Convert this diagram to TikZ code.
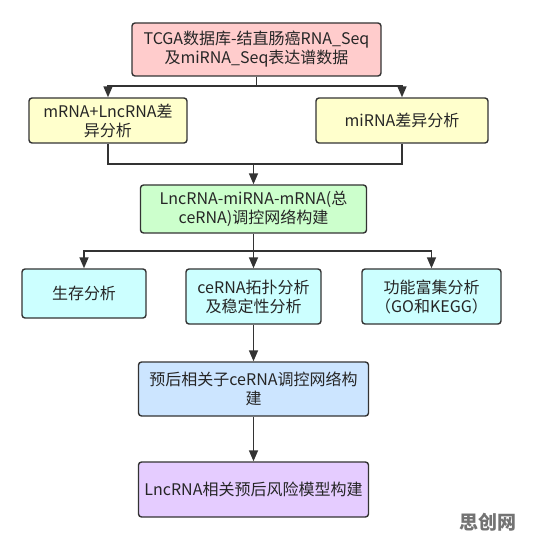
\documentclass[tikz,border=0pt]{standalone}
\usepackage{fontspec}
\setmainfont{Noto Sans CJK SC}
\usetikzlibrary{arrows.meta}
\definecolor{cpink}{HTML}{FFCCCC}
\definecolor{cyel}{HTML}{FFFFCC}
\definecolor{cgreen}{HTML}{CCFFCC}
\definecolor{ccyan}{HTML}{CCFFFF}
\definecolor{cblue}{HTML}{CCE5FF}
\definecolor{cpurp}{HTML}{E5CCFF}
\definecolor{cline}{HTML}{333333}
\tikzset{
  box/.style={draw=cline, line width=1.4pt, rounded corners=3pt, align=center,
    inner sep=2pt, font=\fontsize{16}{19}\selectfont, text=black!85},
  conn/.style={draw=cline, line width=1.6pt},
  arr/.style={conn, -{Triangle[length=11pt,width=9pt]}}
}
\begin{document}
\begin{tikzpicture}[x=1pt,y=-1pt]
\useasboundingbox (0,0) rectangle (541,540);
\node[box, fill=cpink, minimum width=249pt, minimum height=53pt] (b1) at (256.5,49.5)
  {TCGA数据库-结直肠癌RNA\_Seq\\及miRNA\_Seq表达谱数据};
\node[box, fill=cyel, minimum width=158pt, minimum height=45pt] (b2) at (108,120.5)
  {mRNA+LncRNA差\\异分析};
\node[box, fill=cyel, minimum width=172pt, minimum height=45pt] (b3) at (402,120.5)
  {miRNA差异分析};
\node[box, fill=cgreen, minimum width=226pt, minimum height=48pt] (b4) at (253.5,209)
  {LncRNA-miRNA-mRNA(总\\ceRNA)调控网络构建};
\node[box, fill=ccyan, minimum width=124pt, minimum height=49pt] (b5) at (84,293.5)
  {生存分析};
\node[box, fill=ccyan, minimum width=135pt, minimum height=55pt] (b6) at (253.5,296.5)
  {ceRNA拓扑分析\\及稳定性分析};
\node[box, fill=ccyan, minimum width=139pt, minimum height=55pt] (b7) at (431.5,296.5)
  {功能富集分析\\（GO和KEGG）};
\node[box, fill=cblue, minimum width=230pt, minimum height=54pt] (b8) at (253.5,389)
  {预后相关子ceRNA调控网络构\\建};
\node[box, fill=cpurp, minimum width=230pt, minimum height=55pt] (b9) at (253.5,489.5)
  {LncRNA相关预后风险模型构建};
\node[text=black!55, font=\bfseries\fontsize{19}{22}\selectfont, inner sep=0pt] (wm) at (488,522) {思创网};

\coordinate (s1) at (256.5,86);
\draw[conn] (b1.south) -- (s1);
\draw[arr] (s1) -| (b2.north);
\draw[arr] (s1) -| (b3.north);

\coordinate (m1) at (253.5,164);
\draw[conn] (b2.south) |- (m1);
\draw[conn] (b3.south) |- (m1);
\draw[arr] (m1) -- (b4.north);

\coordinate (s2) at (253.5,251);
\draw[conn] (b4.south) -- (s2);
\draw[arr] (s2) -| (b5.north);
\draw[arr] (s2) -- (b6.north);
\draw[arr] (s2) -| (b7.north);

\draw[arr] (b6.south) -- (b8.north);
\draw[arr] (b8.south) -- (b9.north);
\end{tikzpicture}
\end{document}
